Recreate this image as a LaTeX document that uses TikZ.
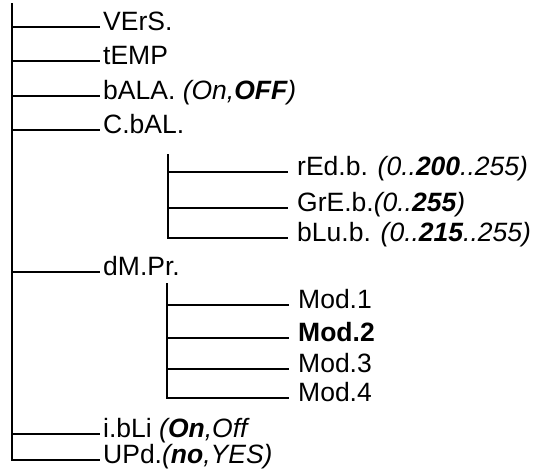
\documentclass[tikz,border=0pt]{standalone}
\usepackage{fontspec}
\setmainfont{Liberation Sans}
\usepackage{tikz}

\begin{document}
\begin{tikzpicture}[x=1pt,y=-1pt,
  lbl/.style={anchor=west,inner xsep=3pt,inner ysep=0pt,text height=8pt,text depth=2pt,font=\fontsize{26.5}{30}\selectfont},
  sublbl/.style={lbl,inner xsep=9pt},
  twig/.style={draw,line width=2.8pt}]
\useasboundingbox (0,0) rectangle (534,472);
% main menu
\node[lbl] (vers) at (100,27) {VErS.};
\node[lbl] (temp) at (100,61) {tEMP};
\node[lbl] (bala) at (100,96) {bALA. \textit{(On,\textbf{OFF})}};
\node[lbl] (cbal) at (100,130) {C.bAL.};
\node[lbl] (dmpr) at (100,272) {dM.Pr.};
\node[lbl] (ibli) at (100,434) {i.bLi \textit{(\textbf{On},Off}};
\node[lbl] (upd) at (100,460) {UPd.\textit{(\textbf{no},YES)}};
% colour values
\node[sublbl] (redb) at (288,172) {rEd.b. \textit{(0..\textbf{200}..255)}};
\node[sublbl] (greb) at (288,208) {GrE.b.\textit{(0..\textbf{255})}};
\node[sublbl] (blub) at (288,238) {bLu.b. \textit{(0..\textbf{215}..255)}};
% display modes
\node[sublbl] (mod1) at (289,305) {Mod.1};
\node[sublbl] (mod2) at (289,338) {\textbf{Mod.2}};
\node[sublbl] (mod3) at (289,369) {Mod.3};
\node[sublbl] (mod4) at (289,398) {Mod.4};

\coordinate (root) at (12,3);
\coordinate (cbalroot) at (168,154);
\coordinate (dmprroot) at (167,283);
\draw[twig] (root) |- (upd.west);
\foreach \n in {vers,temp,bala,cbal,dmpr,ibli}
  \draw[twig] (root |- \n.west) -- (\n.west);
\draw[twig] (cbalroot) |- (blub.west);
\foreach \n in {redb,greb}
  \draw[twig] (cbalroot |- \n.west) -- (\n.west);
\draw[twig] (dmprroot) |- (mod4.west);
\foreach \n in {mod1,mod2,mod3}
  \draw[twig] (dmprroot |- \n.west) -- (\n.west);
\end{tikzpicture}
\end{document}
